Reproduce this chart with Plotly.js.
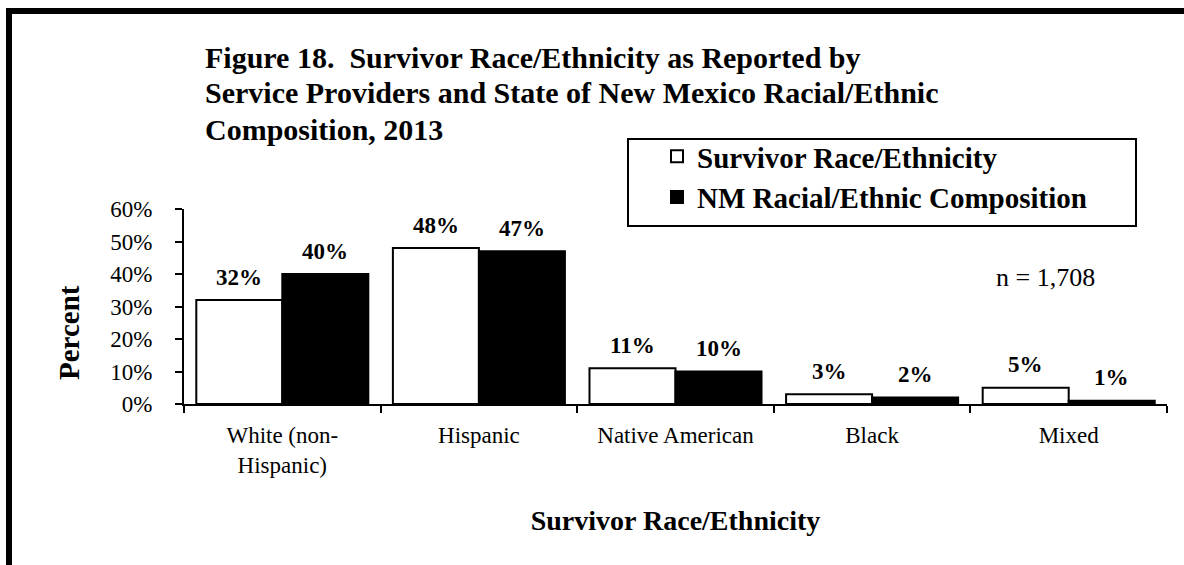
<!DOCTYPE html>
<html>
<head>
<meta charset="utf-8">
<script src="https://cdn.plot.ly/plotly-3.0.1.min.js"></script>
<style>html,body{margin:0;padding:0;background:#fff;}#chart{width:1184px;height:565px;}</style>
</head>
<body>
<div id="chart"></div>
<script>
// ---- data ----
const categories = ['White (non-Hispanic)', 'Hispanic', 'Native American', 'Black', 'Mixed'];
const categoryLabels = ['White (non-<br>Hispanic)', 'Hispanic', 'Native American', 'Black', 'Mixed'];
const survivorValues = [32, 48, 11, 3, 5];
const nmValues = [40, 47, 10, 2, 1];
const seriesNames = ['Survivor Race/Ethnicity', 'NM Racial/Ethnic Composition'];
const yTickValues = [0, 10, 20, 30, 40, 50, 60];
const yTickLabels = ['0%', '10%', '20%', '30%', '40%', '50%', '60%'];
const titleLines = ['Figure 18.  Survivor Race/Ethnicity as Reported by',
                    'Service Providers and State of New Mexico Racial/Ethnic',
                    'Composition, 2013'];
const xTitle = 'Survivor Race/Ethnicity';
const yTitle = 'Percent';
const noteText = 'n = 1,708';

// ---- layout helpers ----
const W = 1184, H = 565;
const M = {l: 184, r: 17, t: 209, b: 161};
const PW = W - M.l - M.r, PH = H - M.t - M.b;
const px = x => (x - M.l) / PW;          // pixel x -> paper
const py = y => (H - M.b - y) / PH;      // pixel y -> paper
const FONT = '"Liberation Serif", "Times New Roman", Times, serif';

const traces = [
  {type: 'bar', name: seriesNames[0], x: categories, y: survivorValues,
   marker: {color: '#ffffff', line: {color: '#000000', width: 2}}, hoverinfo: 'skip'},
  {type: 'bar', name: seriesNames[1], x: categories, y: nmValues,
   marker: {color: '#000000', line: {color: '#000000', width: 2}}, hoverinfo: 'skip'}
];

const barHalf = 43;
const annotations = [];
[survivorValues, nmValues].forEach((vals, s) => {
  vals.forEach((v, i) => {
    annotations.push({x: categories[i], y: v, xref: 'x', yref: 'y',
      xshift: (s === 0 ? -1 : 1) * barHalf, yshift: 23, yanchor: 'middle',
      showarrow: false, text: v + '%',
      font: {family: FONT, size: 23, color: '#000', weight: 'bold'}});
  });
});
// title lines
const titleCenters = [57, 93, 129];
titleLines.forEach((t, i) => {
  annotations.push({xref: 'paper', yref: 'paper', x: px(203), y: py(titleCenters[i]),
    xanchor: 'left', yanchor: 'middle', align: 'left', showarrow: false, text: t,
    font: {family: FONT, size: 30, weight: 'bold', color: '#000'}});
});
// y axis title
annotations.push({xref: 'paper', yref: 'paper', x: px(69), y: py(333),
  xanchor: 'center', yanchor: 'middle', textangle: -90, showarrow: false, text: yTitle,
  font: {family: FONT, size: 29, weight: 'bold', color: '#000'}});
// note
annotations.push({xref: 'paper', yref: 'paper', x: px(1045), y: py(277),
  xanchor: 'center', yanchor: 'middle', showarrow: false, text: noteText,
  font: {family: FONT, size: 26, color: '#000'}});

const layout = {
  width: W, height: H,
  margin: M,
  paper_bgcolor: '#fff', plot_bgcolor: '#fff',
  font: {family: FONT, color: '#000'},
  barmode: 'group', bargap: 0.125, bargroupgap: 0,
  xaxis: {type: 'category', tickvals: categories, ticktext: categoryLabels,
    showline: true, linecolor: '#000', linewidth: 2,
    ticks: 'outside', tickson: 'boundaries', ticklen: 7, tickwidth: 2, tickcolor: '#000',
    ticklabelstandoff: 9,
    tickfont: {family: FONT, size: 23, color: '#000'},
    showgrid: false, zeroline: false, fixedrange: true,
    title: {text: xTitle, standoff: 34,
      font: {family: FONT, size: 28, weight: 'bold', color: '#000'}}},
  yaxis: {range: [0, 60], tickmode: 'array', tickvals: yTickValues, ticktext: yTickLabels,
    showline: true, linecolor: '#000', linewidth: 2,
    ticks: 'outside', ticklen: 7, tickwidth: 2, tickcolor: '#000',
    ticklabelstandoff: 18,
    tickfont: {family: FONT, size: 23, color: '#000'},
    showgrid: false, zeroline: false, fixedrange: true},
  showlegend: true,
  legend: {x: px(657), y: py(131), xanchor: 'left', yanchor: 'top',
    bgcolor: 'rgba(0,0,0,0)', borderwidth: 0, traceorder: 'normal',
    font: {family: FONT, size: 29, weight: 'bold', color: '#000'}},
  shapes: [
    {type: 'rect', xref: 'paper', yref: 'paper', x0: px(628), x1: px(1136), y0: py(139), y1: py(226),
     line: {color: '#000', width: 2}, fillcolor: 'rgba(0,0,0,0)', layer: 'below'},
    {type: 'rect', xref: 'paper', yref: 'paper', x0: px(9), x1: px(1250), y0: py(11), y1: py(640),
     line: {color: '#000', width: 6}, fillcolor: 'rgba(0,0,0,0)', layer: 'below'}
  ],
  annotations: annotations
};

Plotly.newPlot('chart', traces, layout, {displayModeBar: false, staticPlot: true});
</script>
</body>
</html>
